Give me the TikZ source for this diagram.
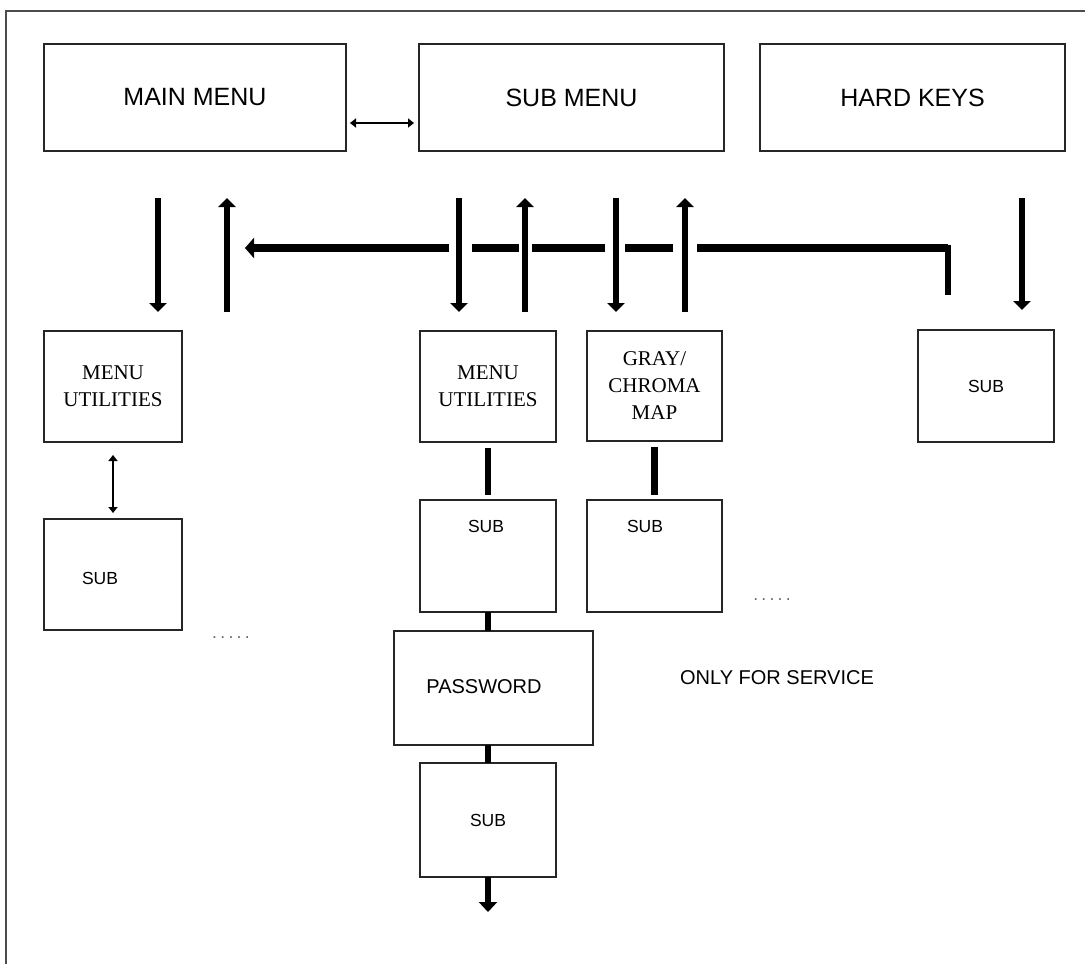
\documentclass[tikz,border=0pt]{standalone}
\usepackage{fontspec}
\setmainfont{Liberation Serif}
\newfontfamily\sansf{Liberation Sans}
\usetikzlibrary{arrows.meta}
\begin{document}
\begin{tikzpicture}[x=1pt,y=-1pt,
  box/.style={draw=black!85, line width=1.8pt, rectangle, inner sep=0pt, outer sep=0pt},
  bigtxt/.style={font=\sansf\fontsize{25}{29}\selectfont},
  smtxt/.style={font=\sansf\fontsize{20}{24}\selectfont},
  subtxt/.style={font=\sansf\fontsize{17.5}{20}\selectfont},
  sertxt/.style={font=\fontsize{21}{27}\selectfont, align=center},
  fat/.style={line width=6.5pt, -{Triangle[width=17pt,length=9pt]}},
  fatline/.style={line width=6.5pt},
  fatleft/.style={line width=7.5pt, -{Triangle[width=20pt,length=9pt]}},
  thinboth/.style={line width=1.8pt, {Triangle[width=9pt,length=6pt]}-{Triangle[width=9pt,length=6pt]}},
]
\useasboundingbox (0,0) rectangle (1085,964);
% frame
\draw[line width=2.5pt, black!70] (1085,11) -- (6,11) -- (6,964);

% top row
\node[box, bigtxt, minimum width=302pt, minimum height=107pt] (main) at (195,97.5) {MAIN MENU};
\node[box, bigtxt, minimum width=305pt, minimum height=107pt] (submenu) at (571.5,97.5) {SUB MENU};
\node[box, bigtxt, minimum width=305pt, minimum height=107pt] (hardkeys) at (912.5,97.5) {HARD KEYS};

% second row
\node[box, sertxt, minimum width=138pt, minimum height=111pt] (mu1) at (113,386.5) {MENU\\UTILITIES};
\node[box, sertxt, minimum width=136pt, minimum height=111pt] (mu2) at (488,386.5) {MENU\\UTILITIES};
\node[box, sertxt, minimum width=135pt, minimum height=110pt] (gray) at (654.5,386) {GRAY/\\CHROMA\\MAP};
\node[box, subtxt, minimum width=136pt, minimum height=112pt] (subR) at (986,386) {SUB};

% lower boxes
\node[box, minimum width=138pt, minimum height=111pt] (sub1) at (113,574.5) {};
\node[subtxt] (sub1t) at (100,578) {SUB};
\node[box, minimum width=136pt, minimum height=112pt] (sub2) at (488,556) {};
\node[subtxt] (sub2t) at (486,526) {SUB};
\node[box, minimum width=135pt, minimum height=112pt] (sub3) at (654.5,556) {};
\node[subtxt] (sub3t) at (645,526) {SUB};
\node[box, minimum width=199pt, minimum height=114pt] (pass) at (493.5,688) {};
\node[smtxt] (passt) at (484,687) {PASSWORD};
\node[box, subtxt, minimum width=136pt, minimum height=114pt] (sub4) at (488,820) {SUB};

% free texts
\node[subtxt, text=black!60] (dots1) at (231,638) {.\kern3.3pt.\kern3.3pt.\kern3.3pt.\kern3.3pt.};
\node[subtxt, text=black!60] (dots2) at (772,600) {.\kern3.3pt.\kern3.3pt.\kern3.3pt.\kern3.3pt.};
\node[smtxt] (service) at (777,678) {ONLY FOR SERVICE};

% helper coordinates
\coordinate (xa) at (158,0);
\coordinate (xb) at (227,0);
\coordinate (xc) at (459,0);
\coordinate (xd) at (525,0);
\coordinate (xe) at (616,0);
\coordinate (xf) at (685,0);
\coordinate (xg) at (1022,0);
\coordinate (ythin) at (0,123);

% thin double arrows
\draw[thinboth, shorten <=4pt, shorten >=5pt] (main.east |- ythin) -- (submenu.west |- ythin);
\draw[thinboth, shorten <=13pt, shorten >=6pt] (mu1.south) -- (sub1.north);

% vertical fat arrows
\draw[fat, shorten <=47pt, shorten >=19pt] (main.south -| xa) -- (mu1.north -| xa);
\draw[fat, shorten <=19pt, shorten >=47pt] (mu1.north -| xb) -- (main.south -| xb);
\draw[fat, shorten <=47pt, shorten >=19pt] (submenu.south -| xc) -- (mu2.north -| xc);
\draw[fat, shorten <=19pt, shorten >=47pt] (mu2.north -| xd) -- (submenu.south -| xd);
\draw[fat, shorten <=47pt, shorten >=19pt] (submenu.south -| xe) -- (gray.north -| xe);
\draw[fat, shorten <=19pt, shorten >=47pt] (gray.north -| xf) -- (submenu.south -| xf);
\draw[fat, shorten <=47pt, shorten >=20pt] (hardkeys.south -| xg) -- (subR.north -| xg);

% feedback line with gaps
\coordinate (fbstart) at (948,295);
\coordinate (fbcorner) at (948,248);
\coordinate (fbend) at (245,248);
\draw[line width=6.5pt] (fbstart) -- (948,251) -- (948,248) -- (697,248);
\draw[line width=7.5pt] (fbcorner) -- (697,248);
\draw[line width=7.5pt] (673,248) -- (625,248);
\draw[line width=7.5pt] (605,248) -- (532,248);
\draw[line width=7.5pt] (519,248) -- (472,248);
\draw[fatleft] (449,248) -- (fbend);

% chain connectors
\draw[fatline, shorten <=6pt, shorten >=5pt] (mu2.south) -- (sub2.north);
\draw[fatline, shorten <=6pt, shorten >=5pt] (gray.south) -- (sub3.north);
\draw[fatline] (sub2.south) -- (sub2.south |- pass.north);
\draw[fatline] (sub4.north |- pass.south) -- (sub4.north);
\coordinate (outend) at (488,912);
\draw[line width=6.5pt, -{Triangle[width=18pt,length=10pt]}] (sub4.south) -- (outend);
\end{tikzpicture}
\end{document}
